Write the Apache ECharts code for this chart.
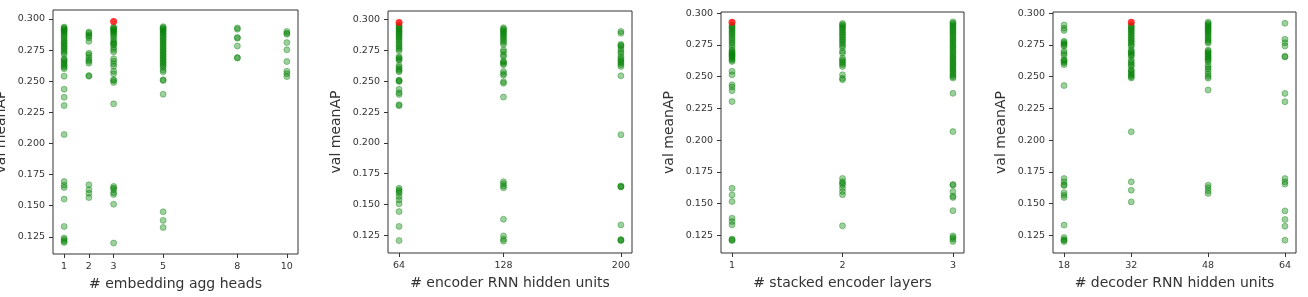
<!DOCTYPE html>
<html>
<head>
<meta charset="utf-8">
<script src="https://cdn.jsdelivr.net/npm/echarts@6/dist/echarts.min.js"></script>
<style>
  html, body { margin: 0; padding: 0; background: #fff; }
  #chart { width: 1308px; height: 297px; }
</style>
</head>
<body>
<div id="chart"></div>
<script>
// y tick labels shared by all panels
const yTicks = [0.125, 0.150, 0.175, 0.200, 0.225, 0.250, 0.275, 0.300];

// panel 1: # embedding agg heads
const headsX = [1, 2, 3, 5, 8, 10];
const headsVals = [
    [0.2935, 0.2928, 0.2920, 0.2912, 0.2905, 0.2896, 0.2885, 0.2872, 0.2860, 0.2845, 0.2830, 0.2818, 0.2806, 0.2795,
     0.2782, 0.2770, 0.2758, 0.2745, 0.2730, 0.2718, 0.2680, 0.2672, 0.2660, 0.2648, 0.2636, 0.2625, 0.2612, 0.2600,
     0.2540, 0.2436, 0.2371, 0.2304, 0.2072, 0.1694, 0.1665, 0.1646, 0.1553, 0.1333, 0.1240, 0.1228, 0.1215, 0.1205],
    [0.2895, 0.2885, 0.2872, 0.2862, 0.2848, 0.2820, 0.2725, 0.2712, 0.2690, 0.2672, 0.2660, 0.2645, 0.2545, 0.2540,
     0.1668, 0.1628, 0.1600, 0.1565],
    [0.2935, 0.2928, 0.2920, 0.2912, 0.2903, 0.2895, 0.2885, 0.2872, 0.2858, 0.2840, 0.2820, 0.2808, 0.2800, 0.2790,
     0.2770, 0.2752, 0.2735, 0.2680, 0.2660, 0.2640, 0.2620, 0.2580, 0.2560, 0.2512, 0.2505, 0.2490, 0.2318, 0.1655,
     0.1642, 0.1630, 0.1605, 0.1590, 0.1512, 0.1200],
    [0.2938, 0.2930, 0.2922, 0.2914, 0.2905, 0.2895, 0.2885, 0.2875, 0.2862, 0.2850, 0.2838, 0.2825, 0.2812, 0.2800,
     0.2788, 0.2775, 0.2762, 0.2750, 0.2738, 0.2725, 0.2712, 0.2700, 0.2688, 0.2675, 0.2662, 0.2650, 0.2638, 0.2625,
     0.2612, 0.2590, 0.2575, 0.2512, 0.2505, 0.2395, 0.1451, 0.1382, 0.1325],
    [0.2928, 0.2918, 0.2852, 0.2845, 0.2783, 0.2690, 0.2686],
    [0.2900, 0.2885, 0.2878, 0.2810, 0.2752, 0.2658, 0.2580, 0.2560, 0.2537]
];
const headsBest = [3, 0.2980];

// panel 2: # encoder RNN hidden units
const encUnitsX = [64, 128, 200];
const encUnitsVals = [
    [0.2955, 0.2945, 0.2935, 0.2925, 0.2915, 0.2905, 0.2895, 0.2885, 0.2872, 0.2860, 0.2848, 0.2835, 0.2820, 0.2805,
     0.2790, 0.2775, 0.2762, 0.2748, 0.2700, 0.2690, 0.2680, 0.2672, 0.2630, 0.2615, 0.2600, 0.2588, 0.2578, 0.2510,
     0.2505, 0.2498, 0.2435, 0.2408, 0.2394, 0.2310, 0.2302, 0.1632, 0.1618, 0.1605, 0.1592, 0.1565, 0.1538, 0.1505,
     0.1442, 0.1322, 0.1207],
    [0.2935, 0.2925, 0.2915, 0.2905, 0.2895, 0.2882, 0.2870, 0.2858, 0.2845, 0.2830, 0.2815, 0.2800, 0.2755, 0.2740,
     0.2715, 0.2702, 0.2665, 0.2655, 0.2645, 0.2635, 0.2580, 0.2562, 0.2550, 0.2497, 0.2485, 0.2372, 0.1685, 0.1668,
     0.1650, 0.1635, 0.1380, 0.1245, 0.1218, 0.1202],
    [0.2905, 0.2890, 0.2800, 0.2792, 0.2782, 0.2760, 0.2740, 0.2725, 0.2700, 0.2685, 0.2672, 0.2660, 0.2648, 0.2635,
     0.2620, 0.2545, 0.2067, 0.1650, 0.1645, 0.1642, 0.1334, 0.1215, 0.1210, 0.1207]
];
const encUnitsBest = [64, 0.2978];

// panel 3: # stacked encoder layers
const layersX = [1, 2, 3];
const layersVals = [
    [0.2905, 0.2895, 0.2885, 0.2875, 0.2862, 0.2850, 0.2838, 0.2825, 0.2810, 0.2795, 0.2780, 0.2765, 0.2750, 0.2730,
     0.2710, 0.2700, 0.2690, 0.2682, 0.2674, 0.2666, 0.2660, 0.2650, 0.2640, 0.2630, 0.2620, 0.2542, 0.2515, 0.2436,
     0.2418, 0.2390, 0.2304, 0.1620, 0.1568, 0.1516, 0.1384, 0.1358, 0.1332, 0.1220, 0.1212, 0.1208],
    [0.2920, 0.2910, 0.2900, 0.2890, 0.2878, 0.2865, 0.2852, 0.2840, 0.2828, 0.2815, 0.2800, 0.2788, 0.2775, 0.2760,
     0.2745, 0.2730, 0.2700, 0.2685, 0.2645, 0.2632, 0.2620, 0.2608, 0.2595, 0.2580, 0.2515, 0.2488, 0.2476, 0.1698,
     0.1672, 0.1660, 0.1647, 0.1622, 0.1595, 0.1570, 0.1324],
    [0.2932, 0.2922, 0.2912, 0.2900, 0.2888, 0.2876, 0.2864, 0.2852, 0.2840, 0.2828, 0.2815, 0.2802, 0.2790, 0.2778,
     0.2765, 0.2752, 0.2740, 0.2728, 0.2715, 0.2700, 0.2688, 0.2675, 0.2662, 0.2650, 0.2638, 0.2625, 0.2612, 0.2600,
     0.2588, 0.2575, 0.2562, 0.2550, 0.2538, 0.2525, 0.2512, 0.2500, 0.2490, 0.2369, 0.2067, 0.1650, 0.1645, 0.1594,
     0.1558, 0.1548, 0.1444, 0.1245, 0.1232, 0.1219, 0.1201]
];
const layersBest = [1, 0.2929];

// panel 4: # decoder RNN hidden units
const decUnitsX = [18, 32, 48, 64];
const decUnitsVals = [
    [0.2908, 0.2882, 0.2865, 0.2780, 0.2770, 0.2760, 0.2750, 0.2740, 0.2700, 0.2685, 0.2670, 0.2635, 0.2628, 0.2620,
     0.2610, 0.2595, 0.2430, 0.1697, 0.1672, 0.1648, 0.1642, 0.1585, 0.1566, 0.1548, 0.1330, 0.1232, 0.1215, 0.1210,
     0.1200],
    [0.2905, 0.2895, 0.2885, 0.2875, 0.2865, 0.2852, 0.2840, 0.2828, 0.2815, 0.2802, 0.2790, 0.2778, 0.2765, 0.2752,
     0.2740, 0.2712, 0.2700, 0.2690, 0.2680, 0.2670, 0.2660, 0.2632, 0.2618, 0.2605, 0.2590, 0.2580, 0.2555, 0.2545,
     0.2535, 0.2522, 0.2510, 0.2500, 0.2490, 0.2066, 0.1671, 0.1605, 0.1513],
    [0.2930, 0.2920, 0.2910, 0.2900, 0.2890, 0.2880, 0.2870, 0.2860, 0.2850, 0.2838, 0.2825, 0.2812, 0.2800, 0.2788,
     0.2775, 0.2765, 0.2710, 0.2700, 0.2690, 0.2680, 0.2670, 0.2660, 0.2650, 0.2640, 0.2630, 0.2620, 0.2592, 0.2575,
     0.2560, 0.2540, 0.2520, 0.2502, 0.2488, 0.2395, 0.1645, 0.1625, 0.1600, 0.1580],
    [0.2921, 0.2795, 0.2768, 0.2742, 0.2662, 0.2655, 0.2368, 0.2303, 0.1697, 0.1671, 0.1653, 0.1442, 0.1374, 0.1321,
     0.1211]
];
const decUnitsBest = [32, 0.2929];

const panels = [
    { xs: headsX, vals: headsVals, best: headsBest, name: '# embedding agg heads',
      grid: { left: 53, top: 10, width: 245, height: 244 }, xMin: 0.55, xMax: 10.45, yMin: 0.1112, yMax: 0.3072 },
    { xs: encUnitsX, vals: encUnitsVals, best: encUnitsBest, name: '# encoder RNN hidden units',
      grid: { left: 388, top: 11, width: 244, height: 242 }, xMin: 57.2, xMax: 206.8, yMin: 0.1106, yMax: 0.3071 },
    { xs: layersX, vals: layersVals, best: layersBest, name: '# stacked encoder layers',
      grid: { left: 721, top: 12, width: 243, height: 241 }, xMin: 0.9, xMax: 3.1, yMin: 0.1110, yMax: 0.3010 },
    { xs: decUnitsX, vals: decUnitsVals, best: decUnitsBest, name: '# decoder RNN hidden units',
      grid: { left: 1053, top: 12, width: 243, height: 241 }, xMin: 15.7, xMax: 66.3, yMin: 0.1110, yMax: 0.3010 }
];

const font = 'DejaVu Sans';
const ink = '#333';
const green = 'rgba(0,128,0,0.38)';

const chart = echarts.init(document.getElementById('chart'));

const option = {
    animation: false,
    grid: [],
    xAxis: [],
    yAxis: [],
    series: []
};

panels.forEach((p, i) => {
    // outerBoundsMode none: keep the grid where it is, even if the y name runs off the page
    option.grid.push(Object.assign({ show: true, borderColor: ink, borderWidth: 1, outerBoundsMode: 'none' }, p.grid));
    option.xAxis.push({
        type: 'value',
        gridIndex: i,
        min: p.xMin,
        max: p.xMax,
        name: p.name,
        nameLocation: 'middle',
        nameGap: 23,
        nameTextStyle: { fontFamily: font, fontSize: 14, color: ink },
        axisLine: { show: false },
        axisTick: { show: true, length: 4, lineStyle: { color: ink }, customValues: p.xs },
        axisLabel: { fontFamily: font, fontSize: 9.5, color: ink, margin: 8, customValues: p.xs },
        splitLine: { show: false }
    });
    option.yAxis.push({
        type: 'value',
        gridIndex: i,
        min: p.yMin,
        max: p.yMax,
        name: 'val meanAP',
        nameLocation: 'middle',
        nameGap: 45,
        nameTextStyle: { fontFamily: font, fontSize: 14, color: ink },
        axisLine: { show: false },
        axisTick: { show: true, length: 4, lineStyle: { color: ink }, customValues: yTicks },
        axisLabel: {
            fontFamily: font, fontSize: 9.5, color: ink, margin: 8, customValues: yTicks,
            formatter: v => v.toFixed(3)
        },
        splitLine: { show: false }
    });

    const pts = [];
    p.xs.forEach((x, j) => {
        p.vals[j].forEach(v => pts.push([x, v]));
    });
    option.series.push({
        type: 'scatter',
        xAxisIndex: i,
        yAxisIndex: i,
        symbolSize: 6,
        itemStyle: { color: green, borderColor: green, borderWidth: 1, opacity: 1 },
        data: pts,
        z: 2
    });
    option.series.push({
        type: 'scatter',
        xAxisIndex: i,
        yAxisIndex: i,
        symbolSize: 7,
        itemStyle: { color: '#ff0000' },
        data: [p.best],
        z: 3
    });
});

chart.setOption(option);
</script>
</body>
</html>
